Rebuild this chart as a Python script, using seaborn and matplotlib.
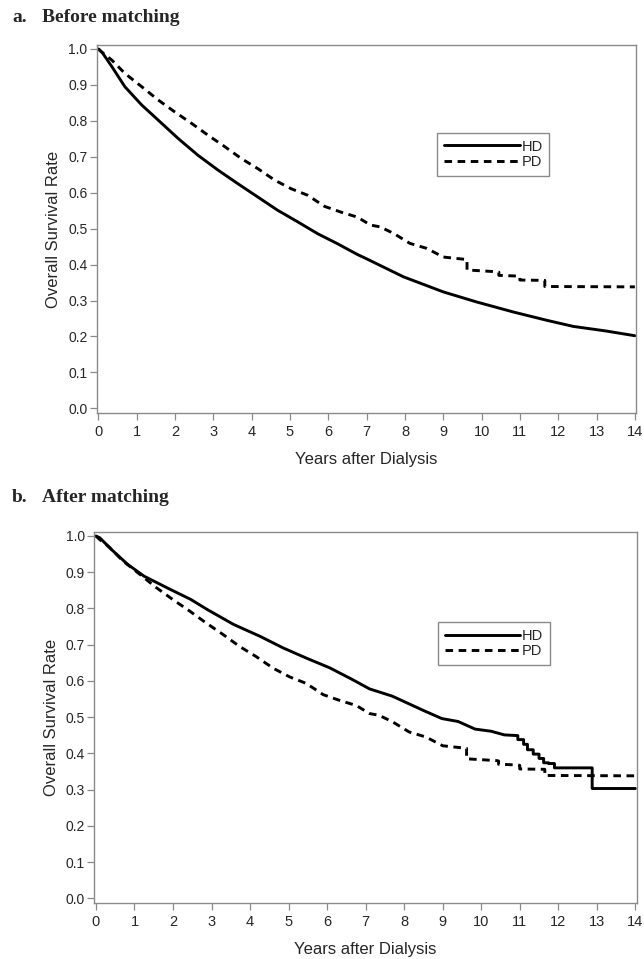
import matplotlib
matplotlib.use("Agg")
import matplotlib.pyplot as plt
import numpy as np
import pandas as pd
import seaborn as sns

# --- DATA ---
pd_years = [0, 0.1, 0.35, 0.69, 1.13, 1.56, 1.99, 2.43, 2.86, 3.3, 3.73, 4.16, 4.6,
            5.03, 5.46, 5.9, 6.33, 6.76, 7.1, 7.35, 7.7, 8.13, 8.57, 9.0, 9.35,
            9.62, 9.62, 10.4, 10.45, 10.45, 10.95, 11.0, 11.0, 11.65, 11.65, 14.0]
pd_surv = [1.0, 0.99, 0.969, 0.932, 0.895, 0.858, 0.825, 0.793, 0.76, 0.728, 0.695,
           0.667, 0.635, 0.611, 0.593, 0.562, 0.546, 0.532, 0.51, 0.505, 0.487,
           0.459, 0.445, 0.421, 0.417, 0.414, 0.385, 0.380, 0.379, 0.370, 0.368,
           0.367, 0.357, 0.356, 0.339, 0.338]

hd_before_years = [0, 0.1, 0.35, 0.69, 1.13, 1.56, 2.08, 2.6, 3.12, 3.64, 4.16, 4.68,
                   5.2, 5.72, 6.24, 6.76, 7.0, 7.96, 9.0, 9.87, 10.83, 11.7, 12.39,
                   13.26, 14.0]
hd_before_surv = [1.0, 0.99, 0.951, 0.895, 0.844, 0.802, 0.751, 0.704, 0.663, 0.625,
                  0.588, 0.551, 0.519, 0.486, 0.458, 0.428, 0.416, 0.366, 0.324,
                  0.296, 0.268, 0.245, 0.228, 0.215, 0.202]

hd_after_years = [0, 0.1, 0.4, 0.82, 1.25, 1.94, 2.46, 2.89, 3.57, 4.26, 4.86, 5.46,
                  6.07, 6.67, 7.1, 7.69, 8.12, 8.55, 8.98, 9.4, 9.84, 10.26, 10.6,
                  10.95, 10.95, 11.1, 11.1, 11.2, 11.2, 11.35, 11.35, 11.5, 11.5,
                  11.62, 11.62, 11.75, 11.75, 11.9, 11.9, 12.88, 12.88, 14.0]
hd_after_surv = [1.0, 0.995, 0.963, 0.922, 0.889, 0.852, 0.825, 0.797, 0.756, 0.723,
                 0.691, 0.663, 0.636, 0.603, 0.578, 0.558, 0.537, 0.516, 0.496,
                 0.488, 0.467, 0.461, 0.451, 0.449, 0.438, 0.438, 0.425, 0.425,
                 0.41, 0.41, 0.398, 0.398, 0.386, 0.386, 0.374, 0.374, 0.372, 0.372,
                 0.36, 0.36, 0.303, 0.303]

groups = ["HD", "PD"]
panel_letters = ["a.", "b."]
panel_titles = ["Before matching", "After matching"]
x_ticks = list(range(0, 15))
y_ticks = [0.0, 0.1, 0.2, 0.3, 0.4, 0.5, 0.6, 0.7, 0.8, 0.9, 1.0]

# --- STYLE ---
sns.set_style("ticks")
plt.rcParams['font.family'] = ['Liberation Sans', 'DejaVu Sans']

frame_col = "#8a8a8a"
W, H = 644, 959


def make_df(hd_x, hd_y):
    d1 = pd.DataFrame({"Years": hd_x, "Survival": hd_y, "Group": "HD"})
    d2 = pd.DataFrame({"Years": pd_years, "Survival": pd_surv, "Group": "PD"})
    return pd.concat([d1, d2], ignore_index=True)


def px_axes(left, top, right, bottom):
    return [left / W, 1 - bottom / H, (right - left) / W, (bottom - top) / H]


fig = plt.figure(figsize=(6.44, 9.59), dpi=100)
ax_a = fig.add_axes(px_axes(96.5, 45, 636, 413))
ax_b = fig.add_axes(px_axes(94, 532, 636.5, 903))

panels = [
    (ax_a, make_df(hd_before_years, hd_before_surv), 0.632, 0.761, 17),
    (ax_b, make_df(hd_after_years, hd_after_surv), 0.634, 0.757, 497),
]

for i, (ax, df, lx, ly, ty) in enumerate(panels):
    sns.lineplot(data=df, x="Years", y="Survival", style="Group",
                 style_order=groups, dashes={"HD": "", "PD": (2.6, 1.9)},
                 color="black", linewidth=2.1, estimator=None, sort=False,
                 ax=ax)
    ax.set_xlim(-0.05, 14.03)
    ax.set_ylim(-0.013, 1.011)
    ax.set_xticks(x_ticks)
    ax.set_yticks(y_ticks)
    ax.set_yticklabels([f"{v:.1f}" for v in y_ticks])
    ax.set_xlabel("Years after Dialysis", fontsize=12, labelpad=9)
    ax.set_ylabel("Overall Survival Rate", fontsize=12, labelpad=5)
    ax.tick_params(axis="both", length=5, width=0.9, color=frame_col,
                   direction="out")
    ax.tick_params(axis="x", labelsize=10.5, pad=4)
    ax.tick_params(axis="y", labelsize=10, pad=1.5)
    for sp in ax.spines.values():
        sp.set_color(frame_col)
        sp.set_linewidth(1.0)
        sp.set_visible(True)
    sns.move_legend(ax, loc="upper left", bbox_to_anchor=(lx, ly), title=None,
                    frameon=True, fancybox=False, edgecolor=frame_col,
                    framealpha=1, fontsize=10.5, handlelength=5.2,
                    handletextpad=0.1, borderpad=0.45, labelspacing=0.12,
                    borderaxespad=0)
    ax.get_legend().get_frame().set_linewidth(1.0)

    fig.text(12 / W, 1 - ty / H, panel_letters[i], fontsize=14,
             fontweight="bold", family=["Liberation Serif"], va="center",
             ha="left")
    fig.text(42 / W, 1 - ty / H, panel_titles[i], fontsize=14,
             fontweight="bold", family=["Liberation Serif"], va="center",
             ha="left")

fig.savefig("out.png", dpi=100)
